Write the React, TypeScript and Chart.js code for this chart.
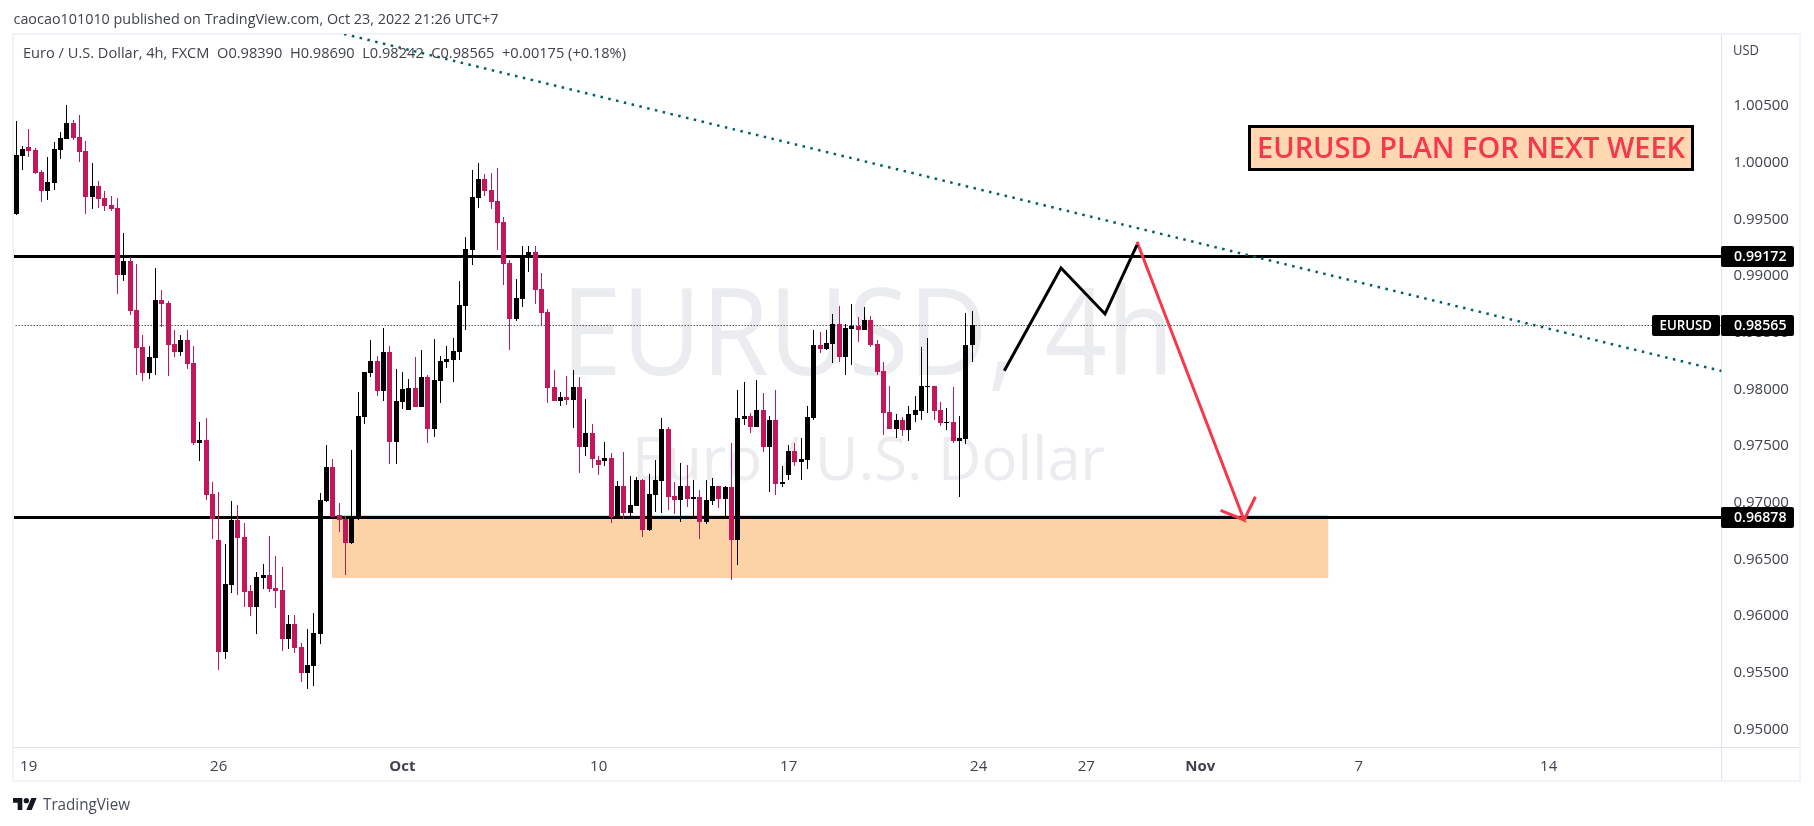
import { useEffect, useRef } from 'react';
import { Chart, registerables } from 'chart.js';

Chart.register(...registerables);

const FONT = '"Open Sans", "Noto Sans", sans-serif';

// 4h candles, one entry per bar
const opens = [
  0.99547, 1.00059, 1.00139, 1.00112, 0.99918, 0.9975, 0.99821, 1.00112, 1.00209, 1.0035,
  1.00227, 1.00103, 0.99697, 0.99794, 0.99688, 0.99627, 0.996, 0.99009, 0.99132, 0.987,
  0.98373, 0.98144, 0.98276, 0.98788, 0.98762, 0.984, 0.98329, 0.98435, 0.98232, 0.97526,
  0.97553, 0.97076, 0.9667, 0.95681, 0.96273, 0.96846, 0.96696, 0.9622, 0.96079, 0.96335,
  0.96361, 0.96246, 0.96229, 0.95796, 0.95929, 0.95726, 0.95496, 0.95558, 0.9584, 0.97014,
  0.97314, 0.96891, 0.96855, 0.96643, 0.96855, 0.97756, 0.98144, 0.9825, 0.97985, 0.98329,
  0.97535, 0.97888, 0.97817, 0.98011, 0.97844, 0.98109, 0.9765, 0.98073, 0.98241, 0.98259,
  0.98329, 0.98735, 0.99229, 0.99688, 0.99856, 0.99759, 0.99662, 0.99477, 0.99115, 0.98621,
  0.98797, 0.99159, 0.99212, 0.98885, 0.98682, 0.9802, 0.97897, 0.97932, 0.97906, 0.9802,
  0.97491, 0.97614, 0.97376, 0.97367, 0.97394, 0.96873, 0.97147, 0.96908, 0.9697, 0.972,
  0.96758, 0.97067, 0.97191, 0.9765, 0.97058, 0.97023, 0.97147, 0.97032, 0.97049, 0.96829,
  0.97014, 0.97147, 0.97032, 0.97138, 0.9667, 0.97738, 0.97764, 0.97667, 0.97817, 0.97491,
  0.97729, 0.97164, 0.97244, 0.97455, 0.97358, 0.97376, 0.97747, 0.98391, 0.98356, 0.984,
  0.98576, 0.98285, 0.98532, 0.98559, 0.98523, 0.98612, 0.984, 0.98162, 0.978, 0.9765,
  0.97729, 0.97641, 0.97773, 0.97809, 0.9802, 0.98029, 0.97817, 0.97703, 0.97711, 0.97544,
  0.97561, 0.9839,
];
const closes = [
  1.00068, 1.00121, 1.00103, 0.99909, 0.9975, 0.9983, 1.00121, 1.00218, 1.0035, 1.00218,
  1.00094, 0.99697, 0.99794, 0.9968, 0.99618, 0.99591, 0.99009, 0.99132, 0.98691, 0.98365,
  0.98144, 0.98285, 0.98788, 0.98753, 0.98391, 0.98329, 0.98435, 0.98223, 0.97526, 0.97553,
  0.97067, 0.96855, 0.95681, 0.96282, 0.96846, 0.96688, 0.96211, 0.96079, 0.96343, 0.96361,
  0.96237, 0.9622, 0.95796, 0.95929, 0.95717, 0.95496, 0.95567, 0.95849, 0.97023, 0.97314,
  0.96873, 0.96846, 0.96643, 0.96855, 0.97764, 0.98153, 0.9825, 0.97985, 0.98329, 0.97535,
  0.97897, 0.98003, 0.98011, 0.97844, 0.98109, 0.9765, 0.98082, 0.9825, 0.98267, 0.98338,
  0.98744, 0.99238, 0.99697, 0.99856, 0.9975, 0.99653, 0.99468, 0.99106, 0.98621, 0.98806,
  0.99177, 0.99212, 0.98876, 0.98673, 0.98011, 0.97897, 0.97932, 0.97906, 0.9802, 0.97491,
  0.97614, 0.97385, 0.97332, 0.97394, 0.96873, 0.97147, 0.96908, 0.96979, 0.972, 0.96758,
  0.97076, 0.972, 0.9765, 0.97049, 0.97023, 0.97147, 0.97032, 0.97049, 0.96829, 0.97023,
  0.97147, 0.97032, 0.97138, 0.9667, 0.97747, 0.97764, 0.97667, 0.97817, 0.97491, 0.97729,
  0.97164, 0.97182, 0.97455, 0.97358, 0.97385, 0.97756, 0.98391, 0.98356, 0.98409, 0.98576,
  0.98285, 0.98541, 0.98559, 0.98523, 0.98612, 0.98391, 0.98153, 0.97791, 0.9765, 0.97729,
  0.97641, 0.97782, 0.97817, 0.98029, 0.98029, 0.97809, 0.97703, 0.97711, 0.97544, 0.9757,
  0.98391, 0.98565,
];
const highs = [
  1.00368, 1.00147, 1.00297, 1.0013, 0.99936, 1.0005, 1.00183, 1.00271, 1.00509, 1.00377,
  1.00421, 1.00192, 0.99997, 0.99838, 0.9975, 0.99706, 0.99688, 0.9938, 0.99168, 0.99106,
  0.98479, 0.98382, 0.99071, 0.98876, 0.98779, 0.98523, 0.98479, 0.98523, 0.98382, 0.97711,
  0.97747, 0.97182, 0.97094, 0.96635, 0.97014, 0.96979, 0.9682, 0.96273, 0.96388, 0.96458,
  0.96705, 0.96529, 0.96432, 0.96008, 0.96008, 0.95761, 0.95884, 0.96026, 0.97085, 0.97508,
  0.97385, 0.96997, 0.96882, 0.97464, 0.97976, 0.98153, 0.98435, 0.98294, 0.98541, 0.98382,
  0.98179, 0.98153, 0.98091, 0.98285, 0.98347, 0.98126, 0.98444, 0.98294, 0.98382, 0.98453,
  0.98956, 0.99344, 0.99936, 0.99997, 0.999, 0.99909, 0.99953, 0.99521, 0.99141, 0.98974,
  0.99265, 0.99265, 0.99265, 0.99027, 0.98709, 0.9817, 0.97976, 0.98117, 0.9817, 0.98109,
  0.97914, 0.97694, 0.97411, 0.97535, 0.97438, 0.97191, 0.97447, 0.97235, 0.97226, 0.97208,
  0.97252, 0.97376, 0.97747, 0.97667, 0.97182, 0.9735, 0.97332, 0.972, 0.97111, 0.972,
  0.97217, 0.97147, 0.97147, 0.97526, 0.97994, 0.98064, 0.97791, 0.98082, 0.97967, 0.97764,
  0.97994, 0.97323, 0.97508, 0.97526, 0.9757, 0.97853, 0.98523, 0.98506, 0.98523, 0.98665,
  0.98735, 0.98576, 0.98753, 0.98638, 0.98726, 0.98647, 0.98435, 0.98241, 0.98029, 0.97782,
  0.97756, 0.97853, 0.97941, 0.98373, 0.98453, 0.98029, 0.97888, 0.97835, 0.9802, 0.97764,
  0.98673, 0.9869,
];
const lows = [
  0.99538, 0.99936, 1.0005, 0.999, 0.99653, 0.99671, 0.99759, 1.00033, 1.00209, 1.002,
  1.00006, 0.99547, 0.99591, 0.996, 0.99574, 0.99574, 0.98841, 0.98956, 0.98656, 0.98126,
  0.98073, 0.98091, 0.98126, 0.9855, 0.98117, 0.98285, 0.98294, 0.98179, 0.97508, 0.97367,
  0.97023, 0.96679, 0.95523, 0.9562, 0.96202, 0.96185, 0.96079, 0.95999, 0.9584, 0.96237,
  0.96211, 0.9607, 0.9569, 0.95708, 0.95673, 0.95417, 0.95355, 0.95381, 0.95752, 0.97005,
  0.96873, 0.96741, 0.96361, 0.96635, 0.96846, 0.97694, 0.98109, 0.97941, 0.97897, 0.97341,
  0.97341, 0.97826, 0.97817, 0.97844, 0.97844, 0.97526, 0.97579, 0.97879, 0.98188, 0.98064,
  0.98259, 0.98523, 0.99097, 0.996, 0.99706, 0.99591, 0.99229, 0.98921, 0.98347, 0.98603,
  0.98726, 0.99035, 0.98753, 0.98559, 0.97879, 0.97897, 0.97853, 0.97861, 0.97658, 0.97261,
  0.97411, 0.97305, 0.97244, 0.97323, 0.9682, 0.96873, 0.96855, 0.96873, 0.9697, 0.96696,
  0.96749, 0.96917, 0.96908, 0.96935, 0.96899, 0.96829, 0.96961, 0.96873, 0.96679, 0.96811,
  0.96979, 0.96952, 0.96873, 0.96317, 0.96449, 0.97685, 0.97614, 0.97667, 0.97447, 0.97094,
  0.97067, 0.97138, 0.972, 0.97323, 0.972, 0.97297, 0.97729, 0.9832, 0.98347, 0.98232,
  0.98241, 0.98126, 0.98215, 0.98418, 0.98523, 0.98373, 0.98126, 0.97597, 0.9765, 0.9757,
  0.97588, 0.97544, 0.97711, 0.97729, 0.97791, 0.97729, 0.97676, 0.97641, 0.97526, 0.97049,
  0.97517, 0.98242,
];

// axis
const priceTicks = [0.95, 0.955, 0.96, 0.965, 0.97, 0.975, 0.98, 0.985, 0.99, 0.995, 1.0, 1.005];
const timeTicks = [2, 32, 61, 92, 122, 152, 169, 187, 212, 242];
const timeLabels = ['19', '26', 'Oct', '10', '17', '24', '27', 'Nov', '7', '14'];
const boldTimeLabels = ['Oct', 'Nov'];

// drawings on the chart, x in bars, y in price
const levels = [0.99172, 0.96869];
const lastPrice = 0.98563;
const trendX = [51.8, 269.3];
const trendY = [1.01136, 0.98162];
const planX = [156.05, 165.0, 171.95, 177.0];
const planY = [0.98164, 0.99071, 0.98665, 0.99274];
const arrowX = [177.0, 193.9, 190.2, 193.9, 195.7];
const arrowY = [0.99303, 0.96847, 0.96932, 0.96847, 0.97052];
const zoneX = [49.9, 207.2];
const zoneY = [0.96891, 0.96335];

const headerText = 'caocao101010 published on TradingView.com, Oct 23, 2022 21:26 UTC+7';
const legendText = 'Euro / U.S. Dollar, 4h, FXCM  O0.98390  H0.98690  L0.98242  C0.98565  +0.00175 (+0.18%)';

const barX = opens.map((_, i) => i);
const colors = opens.map((o, i) => (closes[i] >= o ? '#000000' : '#C2185B'));

function fitText(ctx: CanvasRenderingContext2D, text: string, x: number, y: number, w: number) {
  const m = ctx.measureText(text).width;
  ctx.save();
  ctx.translate(x, y);
  ctx.scale(w / m, 1);
  ctx.textAlign = 'left';
  ctx.fillText(text, 0, 0);
  ctx.restore();
}

function tag(ctx: CanvasRenderingContext2D, x: number, y: number, w: number, h: number, text: string, tx: number, tw: number) {
  ctx.fillStyle = '#000000';
  ctx.beginPath();
  ctx.roundRect(x, y, w, h, 2);
  ctx.fill();
  ctx.fillStyle = '#ffffff';
  ctx.font = `600 15px ${FONT}`;
  ctx.textBaseline = 'middle';
  fitText(ctx, text, tx, y + h / 2 + 0.5, tw);
}

const decor = {
  id: 'decor',
  afterDatasetsUpdate(chart: any) {
    // snap candles to whole pixels so bodies and wicks stay crisp
    [0, 1].forEach((d) => {
      chart.getDatasetMeta(d).data.forEach((el: any) => {
        el.x = Math.floor(el.x) + 0.5;
        el.y = Math.round(el.y);
        el.base = Math.round(el.base);
        if (el.base === el.y) el.base = el.y + 1;
      });
    });
  },
  beforeDraw(chart: any) {
    const { ctx } = chart;
    ctx.save();
    ctx.fillStyle = '#ffffff';
    ctx.fillRect(0, 0, 1814, 826);
    ctx.strokeStyle = '#F0F3FA';
    ctx.lineWidth = 2;
    ctx.strokeRect(13, 34, 1787, 747);
    ctx.strokeStyle = '#E0E3EB';
    ctx.lineWidth = 1;
    ctx.beginPath();
    ctx.moveTo(14, 747.5);
    ctx.lineTo(1799, 747.5);
    ctx.moveTo(1721.5, 35);
    ctx.lineTo(1721.5, 780);
    ctx.stroke();
    ctx.restore();
  },
  beforeDatasetsDraw(chart: any) {
    const { ctx, scales } = chart;
    ctx.save();
    // watermark
    ctx.fillStyle = '#EBECEF';
    ctx.textBaseline = 'alphabetic';
    ctx.font = `120px ${FONT}`;
    fitText(ctx, 'EURUSD, 4h', 561, 375, 613);
    ctx.font = `60px ${FONT}`;
    fitText(ctx, 'Euro / U.S. Dollar', 632, 480, 473);
    // support zone
    const zx = scales.x.getPixelForValue(zoneX[0]);
    const zy = scales.y.getPixelForValue(zoneY[0]);
    ctx.fillStyle = '#FCD3A6';
    ctx.fillRect(zx, zy, scales.x.getPixelForValue(zoneX[1]) - zx, scales.y.getPixelForValue(zoneY[1]) - zy);
    ctx.restore();
  },
  afterDraw(chart: any) {
    const { ctx } = chart;
    ctx.save();
    ctx.textBaseline = 'middle';
    ctx.fillStyle = '#3f424c';
    ctx.font = `15px ${FONT}`;
    fitText(ctx, headerText, 13.5, 20, 485);
    fitText(ctx, legendText, 23, 53.5, 603);
    fitText(ctx, 'USD', 1733, 51, 26);

    tag(ctx, 1721, 246, 73, 21, '0.99172', 1734, 52.5);
    tag(ctx, 1721, 315, 73, 21, '0.98565', 1734, 52.5);
    tag(ctx, 1721, 507, 73, 21, '0.96878', 1734, 52.5);
    tag(ctx, 1652, 315, 68, 21, 'EURUSD', 1659.5, 52.5);

    // plan label
    ctx.fillStyle = '#FFD7B0';
    ctx.fillRect(1249, 126, 444, 44);
    ctx.strokeStyle = '#000000';
    ctx.lineWidth = 3;
    ctx.strokeRect(1249.5, 126.5, 443, 43);
    ctx.fillStyle = '#F7374B';
    ctx.font = `600 29px ${FONT}`;
    ctx.textBaseline = 'alphabetic';
    fitText(ctx, 'EURUSD PLAN FOR NEXT WEEK', 1257, 158, 428);

    // logo
    ctx.translate(13, 795.3);
    ctx.scale(0.667, 0.667);
    ctx.fillStyle = '#131722';
    ctx.fill(new Path2D('M14 22H7V11H0V4h14v18zM28 22h-8l7.5-18h8L28 22z'));
    ctx.beginPath();
    ctx.arc(20, 8, 4, 0, Math.PI * 2);
    ctx.fill();
    ctx.setTransform(1, 0, 0, 1, 0, 0);
    ctx.fillStyle = '#4a4e58';
    ctx.font = `17px ${FONT}`;
    ctx.textBaseline = 'middle';
    fitText(ctx, 'TradingView', 43, 805, 87);
    ctx.restore();
  },
};

export default function App() {
  const canvasRef = useRef<HTMLCanvasElement>(null);

  useEffect(() => {
    document.body.style.margin = '0';
    if (canvasRef.current === null) return;
    const ctx = canvasRef.current.getContext('2d');
    if (ctx === null) return;

    const lineSet = (xs: number[], ys: number[], color: string, width: number, order: number, dash: number[] = []) => ({
      type: 'line' as const,
      data: xs.map((x, i) => ({ x, y: ys[i] })),
      borderColor: color,
      borderWidth: width,
      borderDash: dash,
      pointRadius: 0,
      tension: 0,
      order,
    });

    const chart = new Chart(ctx, {
      type: 'bar',
      data: {
        datasets: [
          {
            data: barX.map((x) => ({ x, y: [opens[x], closes[x]] })),
            backgroundColor: colors,
            maxBarThickness: 5,
            barPercentage: 1,
            categoryPercentage: 1,
            grouped: false,
            inflateAmount: 0,
            order: 2,
          },
          {
            data: barX.map((x) => ({ x, y: [lows[x], highs[x]] })),
            backgroundColor: colors,
            maxBarThickness: 1,
            barPercentage: 1,
            categoryPercentage: 1,
            grouped: false,
            inflateAmount: 0,
            order: 3,
          },
          lineSet([-1, 270], [levels[0], levels[0]], '#000000', 3, 5),
          lineSet([-1, 270], [levels[1], levels[1]], '#000000', 3, 5),
          lineSet([-1, 270], [lastPrice, lastPrice], '#000000', 1, 6, [1, 2]),
          lineSet(trendX, trendY, '#006064', 2.5, 1, [2.5, 5.5]),
          lineSet(planX, planY, '#000000', 3, 1),
          lineSet(arrowX, arrowY, '#F7374B', 3, 1),
        ] as any,
      },
      options: {
        responsive: false,
        animation: false,
        devicePixelRatio: 1,
        layout: { padding: { left: 14, top: 34, right: 0, bottom: 0 } },
        plugins: { legend: { display: false }, tooltip: { enabled: false } },
        events: [],
        scales: {
          x: {
            type: 'linear',
            offset: false,
            min: -0.316,
            max: 269.29,
            grid: { display: false },
            border: { display: false },
            afterFit: (s: any) => { s.height = 78.5; },
            afterBuildTicks: (s: any) => { s.ticks = timeTicks.map((value) => ({ value })); },
            ticks: {
              autoSkip: false,
              maxRotation: 0,
              padding: 2,
              color: '#3f424c',
              font: (c: any) => {
                const label = timeLabels[timeTicks.indexOf(c.tick?.value)];
                return { family: FONT, size: 15, weight: boldTimeLabels.includes(label) ? 'bold' : 'normal' };
              },
              callback: (v: any) => timeLabels[timeTicks.indexOf(v)],
            },
          } as any,
          y: {
            type: 'linear',
            position: 'right',
            min: 0.94839,
            max: 1.01136,
            bounds: 'data',
            grid: { display: false },
            border: { display: false },
            afterFit: (s: any) => { s.width = 92.5; },
            afterBuildTicks: (s: any) => { s.ticks = priceTicks.map((value) => ({ value })); },
            ticks: {
              autoSkip: false,
              padding: 4,
              color: '#3f424c',
              font: { family: FONT, size: 15 },
              callback: (v: any) => Number(v).toFixed(5),
            },
          } as any,
        },
      },
      plugins: [decor],
    });

    return () => {
      chart.destroy();
    };
  }, []);

  return <canvas ref={canvasRef} width={1814} height={826} style={{ display: 'block' }}></canvas>;
}
